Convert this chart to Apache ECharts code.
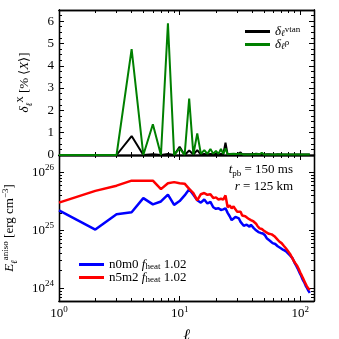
<!DOCTYPE html>
<html>
<head>
<meta charset="utf-8">
<script src="https://cdn.jsdelivr.net/npm/echarts@6/dist/echarts.min.js"></script>
<style>html,body{margin:0;padding:0;background:#fff}#chart{width:339px;height:339px}</style>
</head>
<body>
<div id="chart"></div>
<script>
// multipole index l = 1..120
const ells = [];
for (let i = 1; i <= 120; i++) ells.push(i);

// top panel: relative perturbation in %
const deltaVtan = [
  0, 0, 0, 0.85, 0, 0.03, 0, 0.05, 0, 0.37,
  0, 0.2, 0.02, 0.22, 0.02, 0.05, 0.02, 0.04, 0.03, 0.05,
  0.02, 0.04, 0.03, 0.55, 0.02, 0.03, 0.02, 0.03, 0.02, 0.04,
  0.03, 0.12, 0.03, 0.02, 0.03, 0.02, 0.03, 0.02, 0.03, 0.02,
  0.03, 0.04, 0.06, 0.12, 0.04, 0.02, 0.03, 0.02, 0.02, 0.03,
  0.02, 0.02, 0.03, 0.02, 0.02, 0.03, 0.02, 0.02, 0.02, 0.03,
  0.02, 0.02, 0.02, 0.02, 0.03, 0.02, 0.02, 0.02, 0.02, 0.02,
  0.02, 0.02, 0.02, 0.02, 0.02, 0.02, 0.02, 0.02, 0.02, 0.02,
  0.02, 0.02, 0.02, 0.02, 0.02, 0.02, 0.02, 0.02, 0.02, 0.02,
  0.02, 0.02, 0.02, 0.02, 0.02, 0.02, 0.02, 0.02, 0.02, 0.02,
  0.02, 0.02, 0.02, 0.02, 0.02, 0.02, 0.02, 0.02, 0.02, 0.02,
  0.02, 0.02, 0.02, 0.02, 0.02, 0.02, 0.02, 0.02, 0.02, 0.02
];
const deltaRho = [
  0, 0, 0, 4.75, 0, 1.38, 0, 5.9, 0, 0.3,
  0, 2.53, 0.02, 0.97, 0.05, 0.22, 0.05, 0.27, 0.06, 0.18,
  0.05, 0.27, 0.05, 0.3, 0.03, 0.05, 0.02, 0.06, 0.03, 0.04,
  0.02, 0.06, 0.03, 0.02, 0.04, 0.02, 0.03, 0.02, 0.04, 0.03,
  0.02, 0.03, 0.05, 0.04, 0.02, 0.03, 0.04, 0.1, 0.03, 0.02,
  0.03, 0.02, 0.03, 0.02, 0.02, 0.03, 0.02, 0.02, 0.03, 0.02,
  0.02, 0.02, 0.03, 0.02, 0.02, 0.02, 0.03, 0.02, 0.02, 0.02,
  0.02, 0.03, 0.02, 0.02, 0.02, 0.02, 0.02, 0.03, 0.02, 0.02,
  0.02, 0.02, 0.02, 0.02, 0.03, 0.02, 0.02, 0.02, 0.02, 0.02,
  0.02, 0.02, 0.02, 0.02, 0.02, 0.02, 0.02, 0.02, 0.02, 0.02,
  0.02, 0.02, 0.02, 0.02, 0.02, 0.02, 0.02, 0.02, 0.02, 0.02,
  0.02, 0.02, 0.02, 0.02, 0.02, 0.02, 0.02, 0.02, 0.02, 0.02
];

// bottom panel: anisotropic energy [erg cm^-3]
const eN0m0 = [
  2.2e25, 1.03e25, 1.9e25, 2.05e25, 3.6e25, 2.8e25, 3.15e25, 4.15e25, 2.75e25, 3.2e25,
  4.0e25, 5.1e25, 4.1e25, 3.3e25, 3.0e25, 3.4e25, 2.9e25, 3.1e25, 2.5e25, 2.35e25,
  2.4e25, 2.25e25, 2.3e25, 2.4e25, 2.0e25, 1.75e25, 1.5e25, 1.6e25, 1.7e25, 1.75e25,
  1.6e25, 1.4e25, 1.3e25, 1.2e25, 1.15e25, 1.25e25, 1.2e25, 1.15e25, 1.25e25, 1.2e25,
  1.1e25, 1.05e25, 1.0e25, 9.5e24, 9.3e24, 9.6e24, 9.0e24, 8.6e24, 8.8e24, 8.4e24,
  8.2e24, 7.8e24, 7.2e24, 6.8e24, 7.4e24, 6.6e24, 6.2e24, 6.4e24, 6.0e24, 5.9e24,
  5.7e24, 5.8e24, 5.5e24, 5.4e24, 5.3e24, 5.4e24, 5.1e24, 5.0e24, 4.9e24, 4.8e24,
  4.7e24, 4.6e24, 4.55e24, 4.5e24, 4.4e24, 4.3e24, 4.25e24, 4.1e24, 4.0e24, 3.9e24,
  3.8e24, 3.7e24, 3.6e24, 3.5e24, 3.45e24, 3.3e24, 3.2e24, 3.0e24, 2.85e24, 2.7e24,
  2.6e24, 2.5e24, 2.4e24, 2.3e24, 2.2e24, 2.1e24, 2.0e24, 1.95e24, 1.85e24, 1.75e24,
  1.65e24, 1.6e24, 1.5e24, 1.45e24, 1.4e24, 1.35e24, 1.3e24, 1.25e24, 1.2e24, 1.15e24,
  1.1e24, 1.07e24, 1.05e24, 1.0e24, 9.7e23, 9.3e23, 9.0e23, 8.8e23, 8.5e23, 8.3e23
];
const eN5m2 = [
  3.0e25, 4.8e25, 5.9e25, 7.2e25, 7.2e25, 7.2e25, 5.15e25, 6.5e25, 6.8e25, 6.5e25,
  6.4e25, 5.2e25, 4.4e25, 3.3e25, 4.2e25, 4.4e25, 4.1e25, 4.2e25, 3.6e25, 3.7e25,
  3.4e25, 3.5e25, 3.4e25, 4.0e25, 2.5e25, 2.7e25, 2.4e25, 2.6e25, 2.3e25, 2.1e25,
  1.95e25, 2.1e25, 1.8e25, 1.9e25, 1.75e25, 1.7e25, 1.6e25, 1.55e25, 1.5e25, 1.45e25,
  1.42e25, 1.35e25, 1.3e25, 1.2e25, 1.15e25, 1.08e25, 1.12e25, 1.05e25, 1.0e25, 9.8e24,
  9.5e24, 9.3e24, 9.6e24, 9.0e24, 8.7e24, 8.8e24, 8.4e24, 8.5e24, 8.2e24, 8.3e24,
  7.9e24, 7.6e24, 7.4e24, 7.1e24, 6.9e24, 6.6e24, 6.4e24, 6.3e24, 6.1e24, 6.0e24,
  5.8e24, 5.6e24, 5.4e24, 5.2e24, 5.0e24, 4.9e24, 4.8e24, 4.6e24, 4.4e24, 4.25e24,
  4.1e24, 3.95e24, 3.8e24, 3.6e24, 3.45e24, 3.3e24, 3.15e24, 3.0e24, 2.9e24, 2.8e24,
  2.7e24, 2.6e24, 2.55e24, 2.45e24, 2.35e24, 2.25e24, 2.15e24, 2.05e24, 1.95e24, 1.87e24,
  1.8e24, 1.72e24, 1.65e24, 1.58e24, 1.5e24, 1.45e24, 1.4e24, 1.33e24, 1.28e24, 1.22e24,
  1.17e24, 1.13e24, 1.1e24, 1.07e24, 1.04e24, 1.0e24, 9.8e23, 9.6e23, 9.5e23, 9.3e23
];

// tick positions
const xMajor = [1, 10, 100];
const xMinor = [2, 3, 4, 5, 6, 7, 8, 9, 20, 30, 40, 50, 60, 70, 80, 90];
const topMajor = [0, 1, 2, 3, 4, 5, 6];
const topMinor = [0.25, 0.5, 0.75, 1.25, 1.5, 1.75, 2.25, 2.5, 2.75, 3.25, 3.5, 3.75,
  4.25, 4.5, 4.75, 5.25, 5.5, 5.75, 6.25];
const botMajor = [1e24, 1e25, 1e26];
const botMinor = [7e23, 8e23, 9e23, 2e24, 3e24, 4e24, 5e24, 6e24, 7e24, 8e24, 9e24,
  2e25, 3e25, 4e25, 5e25, 6e25, 7e25, 8e25, 9e25, 2e26];

const F = 'Liberation Serif';
function richOf(size, lh) {
  return {
    n: { fontFamily: F, fontSize: size, lineHeight: lh, color: '#000' },
    it: { fontFamily: F, fontSize: size, fontStyle: 'italic', lineHeight: lh, color: '#000' },
    big: { fontFamily: F, fontSize: 16, fontStyle: 'italic', lineHeight: lh, color: '#000' },
    sup: { fontFamily: F, fontSize: 9, verticalAlign: 'top', lineHeight: 9, color: '#000' },
    sub: { fontFamily: F, fontSize: 9, verticalAlign: 'bottom', lineHeight: 9, color: '#000' },
    isub: { fontFamily: F, fontSize: 9, fontStyle: 'italic', verticalAlign: 'bottom', lineHeight: 9, color: '#000' }
  };
}
const rich = richOf(13, 18);
const legRich = richOf(13, 13);

const pow10 = (v) => '{n|10}{sup|' + Math.round(Math.log10(v)) + '}';

const line = { color: '#000', width: 1.3 };

function xAxisOf(grid, pos, ticks, len, showLabel) {
  return {
    type: 'log', gridIndex: grid, position: pos, min: 1, max: 130,
    axisLine: { show: true, onZero: false, lineStyle: line },
    axisTick: { show: true, inside: true, length: len, customValues: ticks, lineStyle: { color: '#000', width: 1 } },
    axisLabel: { show: showLabel, customValues: xMajor, formatter: pow10, rich: rich, margin: 4 },
    splitLine: { show: false }
  };
}
function yAxisOf(grid, pos, type, min, max, ticks, len, labels, fmt) {
  return {
    type: type, gridIndex: grid, position: pos, min: min, max: max,
    axisLine: { show: true, onZero: false, lineStyle: line },
    axisTick: { show: true, inside: true, length: len, customValues: ticks, lineStyle: { color: '#000', width: 1 } },
    axisLabel: { show: !!labels, customValues: labels || ticks, formatter: fmt, rich: rich, margin: 5 },
    splitLine: { show: false }
  };
}

const topData = (arr) => ells.map((l, i) => [l, arr[i]]);

const legendNames = {
  vtan: '{it|δ}{isub|ℓ}{sup|v}{sup|tan}',
  rho: '{it|δ}{isub|ℓ}{sup|ρ}',
  n0m0: '{n|n0m0 }{it|f}{sub|heat}{n| 1.02}',
  n5m2: '{n|n5m2 }{it|f}{sub|heat}{n| 1.02}'
};

const chart = echarts.init(document.getElementById('chart'));
chart.setOption({
  animation: false,
  backgroundColor: '#fff',
  grid: [
    { left: 59, right: 25, top: 10, height: 145, outerBoundsMode: 'none', containLabel: false },
    { left: 59, right: 25, top: 155, height: 146, outerBoundsMode: 'none', containLabel: false }
  ],
  xAxis: [
    xAxisOf(0, 'bottom', xMajor, 5, false),
    xAxisOf(0, 'bottom', xMinor, 3, false),
    xAxisOf(0, 'top', xMajor, 5, false),
    xAxisOf(0, 'top', xMinor, 3, false),
    Object.assign(xAxisOf(1, 'bottom', xMajor, 5, true), {
      name: '{big|ℓ}', nameLocation: 'middle', nameGap: 26, nameTextStyle: { rich: rich }
    }),
    xAxisOf(1, 'bottom', xMinor, 3, false),
    xAxisOf(1, 'top', xMajor, 5, false),
    xAxisOf(1, 'top', xMinor, 3, false)
  ],
  yAxis: [
    Object.assign(yAxisOf(0, 'left', 'value', 0, 6.5, topMajor, 5, topMajor, (v) => '{n|' + v + '}'), {
      name: '{it|δ}{isub|ℓ}{sup|X}{n| [% ⟨}{it|X}{n|⟩]}', nameLocation: 'middle', nameGap: 25,
      nameTextStyle: { rich: rich }
    }),
    yAxisOf(0, 'left', 'value', 0, 6.5, topMinor, 3, null),
    yAxisOf(0, 'right', 'value', 0, 6.5, topMajor, 5, null),
    yAxisOf(0, 'right', 'value', 0, 6.5, topMinor, 3, null),
    Object.assign(yAxisOf(1, 'left', 'log', 6e23, 2e26, botMajor, 5, botMajor, pow10), {
      name: '{it|E}{isub|ℓ}{sup|aniso}{n| [erg cm}{sup|−3}{n|]}', nameLocation: 'middle', nameGap: 40,
      nameTextStyle: { rich: rich }
    }),
    yAxisOf(1, 'left', 'log', 6e23, 2e26, botMinor, 3, null),
    yAxisOf(1, 'right', 'log', 6e23, 2e26, botMajor, 5, null),
    yAxisOf(1, 'right', 'log', 6e23, 2e26, botMinor, 3, null)
  ],
  legend: [
    {
      data: ['vtan', 'rho'], orient: 'vertical', left: 240, top: 20, itemWidth: 25, itemHeight: 3,
      icon: 'rect', itemGap: 0, formatter: (n) => legendNames[n], textStyle: { rich: legRich }
    },
    {
      data: ['n0m0', 'n5m2'], orient: 'vertical', left: 74, top: 253, itemWidth: 25, itemHeight: 3,
      icon: 'rect', itemGap: 0, formatter: (n) => legendNames[n], textStyle: { rich: legRich }
    }
  ],
  graphic: [
    {
      type: 'text', right: 46, top: 163,
      style: { text: '{it|t}{sub|pb}{n| = 150 ms}', rich: rich, align: 'right' }
    },
    {
      type: 'text', right: 46, top: 180,
      style: { text: '{it|r}{n| = 125 km}', rich: rich, align: 'right' }
    }
  ],
  series: [
    {
      name: 'vtan', type: 'line', xAxisIndex: 0, yAxisIndex: 0, showSymbol: false,
      lineStyle: { color: '#000', width: 2 }, itemStyle: { color: '#000' }, data: topData(deltaVtan)
    },
    {
      name: 'rho', type: 'line', xAxisIndex: 0, yAxisIndex: 0, showSymbol: false,
      lineStyle: { color: '#008000', width: 2 }, itemStyle: { color: '#008000' }, data: topData(deltaRho)
    },
    {
      name: 'n0m0', type: 'line', xAxisIndex: 4, yAxisIndex: 4, showSymbol: false,
      lineStyle: { color: '#0000ff', width: 2.5 }, itemStyle: { color: '#0000ff' }, data: topData(eN0m0)
    },
    {
      name: 'n5m2', type: 'line', xAxisIndex: 4, yAxisIndex: 4, showSymbol: false,
      lineStyle: { color: '#ff0000', width: 2.5 }, itemStyle: { color: '#ff0000' }, data: topData(eN5m2)
    }
  ]
});
</script>
</body>
</html>
